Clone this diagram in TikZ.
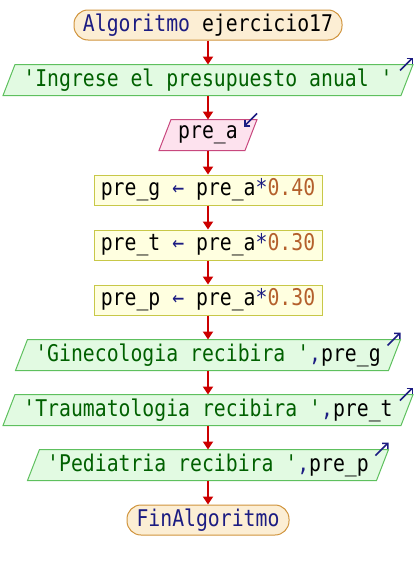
\documentclass[tikz,border=0pt]{standalone}
\usepackage{fontspec}
\usepackage{xcolor}
\newfontfamily\psefont[FakeStretch=0.86]{DejaVu Sans Mono}
\usetikzlibrary{positioning,arrows.meta,backgrounds}

\definecolor{kwblue}{HTML}{1C1C82}
\definecolor{strgreen}{HTML}{006000}
\definecolor{numbrown}{HTML}{B4602C}
\definecolor{flowred}{HTML}{CC0000}
\definecolor{termfill}{HTML}{FCEED4}
\definecolor{termdraw}{HTML}{D0943C}
\definecolor{outfill}{HTML}{E2FAE2}
\definecolor{outdraw}{HTML}{5EC05E}
\definecolor{infill}{HTML}{FDE2EE}
\definecolor{indraw}{HTML}{C8487E}
\definecolor{asfill}{HTML}{FFFFE0}
\definecolor{asdraw}{HTML}{C8C848}

\newcommand{\pkw}[1]{\textcolor{kwblue}{#1}}
\newcommand{\pstring}[1]{\textcolor{strgreen}{#1}}
\newcommand{\pnum}[1]{\textcolor{numbrown}{#1}}

\tikzset{
  base/.style={font={\psefont\fontsize{23}{26}\selectfont}, minimum height=30pt,
    inner sep=1pt, line width=1pt},
  startend/.style={base, draw=termdraw, fill=termfill, rounded corners=14pt},
  iobox/.style={base, rectangle},
  assign/.style={base, rectangle, draw=asdraw, fill=asfill},
  flow/.style={draw=flowred, line width=2pt, -{Triangle[length=8pt,width=10pt]}},
  ioarrow/.style={draw=kwblue, line width=1.5pt, -{Straight Barb[length=4pt,width=8pt]}}
}

\begin{document}
\begin{tikzpicture}[x=1pt,y=-1pt,node distance=24pt]
\useasboundingbox (0,0) rectangle (416,570);

% inicio
\node[startend, minimum width=268pt] (inicio) at (208,25)
  {\pkw{Algoritmo} ejercicio17};
\node[iobox, minimum width=397pt, below=of inicio] (leer_msg)
  {\pstring{'Ingrese el presupuesto anual '}};
\node[iobox, minimum width=85pt, below=of leer_msg] (pre_a)
  {pre\_a};

% asignaciones
\node[assign, minimum width=228pt, below=of pre_a] (pre_g)
  {pre\_g \pkw{←} pre\_a\pkw{*}\pnum{0.40}};
\node[assign, minimum width=228pt, below=of pre_g] (pre_t)
  {pre\_t \pkw{←} pre\_a\pkw{*}\pnum{0.30}};
\node[assign, minimum width=228pt, below=of pre_t] (pre_p)
  {pre\_p \pkw{←} pre\_a\pkw{*}\pnum{0.30}};

% salidas
\node[iobox, minimum width=372pt, below=of pre_p] (esc_g)
  {\pstring{'Ginecologia recibira '}\pkw{,}pre\_g};
\node[iobox, minimum width=397pt, below=of esc_g] (esc_t)
  {\pstring{'Traumatologia recibira '}\pkw{,}pre\_t};
\node[iobox, minimum width=348pt, below=of esc_t] (esc_p)
  {\pstring{'Pediatria recibira '}\pkw{,}pre\_p};
\node[startend, minimum width=162pt, below=of esc_p] (fin)
  {\pkw{FinAlgoritmo}};

% paralelogramos
\begin{scope}[on background layer]
\foreach \n/\k in {leer_msg/out, pre_a/in, esc_g/out, esc_t/out, esc_p/out}
  \draw[draw=\k draw, fill=\k fill, line width=1pt]
    ([xshift=-6pt]\n.south west) -- ([xshift=-6pt]\n.south east)
    -- ([xshift=6pt]\n.north east) -- ([xshift=6pt]\n.north west) -- cycle;
\end{scope}

% flechas
\foreach \a/\b in {inicio/leer_msg, leer_msg/pre_a, pre_a/pre_g, pre_g/pre_t,
  pre_t/pre_p, pre_p/esc_g, esc_g/esc_t, esc_t/esc_p, esc_p/fin}
  \draw[flow] (\a) -- (\b);

% marcas de entrada/salida
\foreach \n in {leer_msg, esc_g, esc_t, esc_p}
  \draw[ioarrow] ([shift={(-7,6)}]\n.north east) -- ++(13,-13);
\draw[ioarrow] ([shift={(6,-6)}]pre_a.north east) -- ++(-13,13);
\end{tikzpicture}
\end{document}
